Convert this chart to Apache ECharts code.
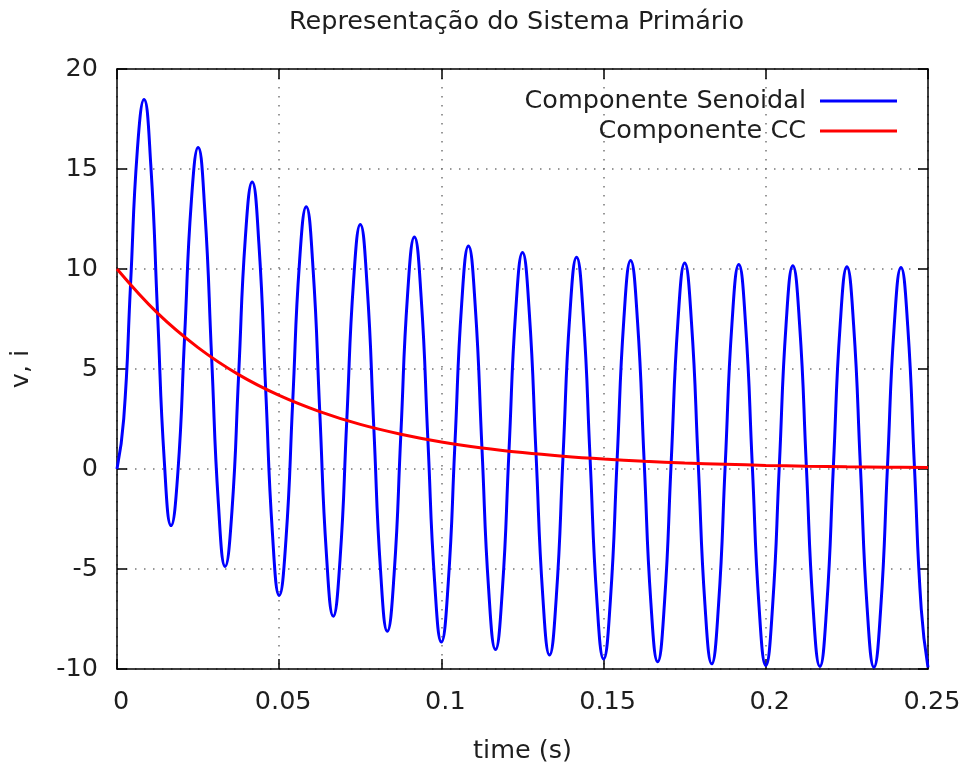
<!DOCTYPE html>
<html>
<head>
<meta charset="utf-8">
<script src="https://cdn.jsdelivr.net/npm/echarts@6/dist/echarts.min.js"></script>
<style>
html,body{margin:0;padding:0;background:#fff;}
#chart{width:964px;height:769px;}
</style>
</head>
<body>
<div id="chart"></div>
<script>
// Sample times (s) for the sinusoidal component
const times = [0, 0.00208, 0.00417, 0.00625, 0.00833, 0.01042, 0.0125, 0.01458, 0.01667, 0.01875, 0.02083, 0.02292, 0.025, 0.02708, 0.02917, 0.03125, 0.03333, 0.03542, 0.0375, 0.03958, 0.04167, 0.04375, 0.04583, 0.04792, 0.05, 0.05208, 0.05417, 0.05625, 0.05833, 0.06042, 0.0625, 0.06458, 0.06667, 0.06875, 0.07083, 0.07292, 0.075, 0.07708, 0.07917, 0.08125, 0.08333, 0.08542, 0.0875, 0.08958, 0.09167, 0.09375, 0.09583, 0.09792, 0.1, 0.10208, 0.10417, 0.10625, 0.10833, 0.11042, 0.1125, 0.11458, 0.11667, 0.11875, 0.12083, 0.12292, 0.125, 0.12708, 0.12917, 0.13125, 0.13333, 0.13542, 0.1375, 0.13958, 0.14167, 0.14375, 0.14583, 0.14792, 0.15, 0.15208, 0.15417, 0.15625, 0.15833, 0.16042, 0.1625, 0.16458, 0.16667, 0.16875, 0.17083, 0.17292, 0.175, 0.17708, 0.17917, 0.18125, 0.18333, 0.18542, 0.1875, 0.18958, 0.19167, 0.19375, 0.19583, 0.19792, 0.2, 0.20208, 0.20417, 0.20625, 0.20833, 0.21042, 0.2125, 0.21458, 0.21667, 0.21875, 0.22083, 0.22292, 0.225, 0.22708, 0.22917, 0.23125, 0.23333, 0.23542, 0.2375, 0.23958, 0.24167, 0.24375, 0.24583, 0.24792, 0.25];
// Componente Senoidal values
const senoidal = [
  0, 2.52, 9.20, 15.90, 18.47, 15.19, 7.79, 0.40,
  -2.83, -0.20, 6.59, 13.39, 16.07, 12.89, 5.58, -1.72,
  -4.87, -2.14, 4.72, 11.60, 14.35, 11.24, 4.00, -3.23,
  -6.32, -3.54, 3.39, 10.32, 13.11, 10.06, 2.87, -4.32,
  -7.36, -4.54, 2.43, 9.40, 12.23, 9.21, 2.05, -5.10,
  -8.11, -5.26, 1.74, 8.74, 11.60, 8.60, 1.47, -5.66,
  -8.65, -5.77, 1.25, 8.26, 11.15, 8.17, 1.05, -6.06,
  -9.03, -6.14, 0.89, 7.93, 10.82, 7.86, 0.76, -6.35,
  -9.30, -6.40, 0.64, 7.68, 10.59, 7.63, 0.54, -6.55,
  -9.50, -6.59, 0.46, 7.51, 10.42, 7.47, 0.39, -6.70,
  -9.64, -6.73, 0.33, 7.39, 10.30, 7.36, 0.28, -6.80,
  -9.74, -6.82, 0.24, 7.30, 10.22, 7.28, 0.20, -6.88,
  -9.82, -6.89, 0.17, 7.23, 10.16, 7.22, 0.14, -6.93,
  -9.87, -6.94, 0.12, 7.19, 10.11, 7.18, 0.10, -6.97,
  -9.91, -6.98, 0.09, 7.15, 10.08, 7.15, 0.07, -7.00,
  -9.93
];
// Componente CC
const ccTimes = [0, 0.0125, 0.025, 0.0375, 0.05, 0.0625, 0.075, 0.0875, 0.1, 0.1125, 0.125, 0.1375, 0.15, 0.1625, 0.175, 0.1875, 0.2, 0.2125, 0.225, 0.2375, 0.25];
const ccValues = [10, 7.79, 6.07, 4.72, 3.68, 2.87, 2.23, 1.74, 1.35, 1.05, 0.82, 0.64, 0.50, 0.39, 0.30, 0.24, 0.18, 0.14, 0.11, 0.09, 0.07];

const seriesNames = ['Componente Senoidal', 'Componente CC'];
const titleText = 'Representação do Sistema Primário';
const xName = 'time (s)';
const yName = 'v, i';

const FONT = 'DejaVu Sans';
const TXT = '#1e1e1e';
const FS = 25.5;

const gridDash = {show: true, lineStyle: {color: '#777', width: 1.5, type: [1.5, 7.5]}};
const axLine = {show: true, onZero: false, lineStyle: {color: '#000', width: 1.5}};
const axTick = {show: true, inside: true, length: 10, lineStyle: {color: '#000', width: 1.5}};

const chart = echarts.init(document.getElementById('chart'), null, {renderer: 'canvas'});
chart.setOption({
  backgroundColor: '#fff',
  animation: false,
  title: {
    text: titleText, left: 284, top: 4,
    textStyle: {fontFamily: FONT, fontSize: FS, fontWeight: 'normal', color: TXT}
  },
  legend: {
    orient: 'vertical', right: 62, top: 83, align: 'right',
    itemWidth: 77, itemHeight: 3, itemGap: 4, icon: 'rect',
    textStyle: {fontFamily: FONT, fontSize: FS, color: TXT, lineHeight: 25, padding: [0, 9, 0, 0]},
    data: seriesNames
  },
  grid: {left: 116, right: 36, top: 69, bottom: 97, containLabel: false},
  xAxis: [{
    type: 'value', min: 0, max: 0.25, interval: 0.05, position: 'bottom',
    axisLine: axLine, axisTick: axTick, splitLine: gridDash,
    axisLabel: {fontFamily: FONT, fontSize: FS, color: TXT, margin: 20, padding: [0, 0, 0, 8]},
    name: xName, nameLocation: 'middle', nameGap: 69,
    nameTextStyle: {fontFamily: FONT, fontSize: FS, color: TXT}
  }, {
    type: 'value', min: 0, max: 0.25, interval: 0.05, position: 'top',
    axisLine: axLine, axisTick: axTick, splitLine: {show: false}, axisLabel: {show: false}
  }],
  yAxis: [{
    type: 'value', min: -10, max: 20, interval: 5, position: 'left',
    axisLine: axLine, axisTick: axTick, splitLine: gridDash,
    axisLabel: {fontFamily: FONT, fontSize: FS, color: TXT, margin: 19},
    name: yName, nameLocation: 'middle', nameGap: 83, nameRotate: 90,
    nameTextStyle: {fontFamily: FONT, fontSize: FS, color: TXT}
  }, {
    type: 'value', min: -10, max: 20, interval: 5, position: 'right',
    axisLine: axLine, axisTick: axTick, splitLine: {show: false}, axisLabel: {show: false}
  }],
  series: [{
    name: seriesNames[0], type: 'line', xAxisIndex: 0, yAxisIndex: 0,
    data: times.map((t, i) => [t, senoidal[i]]),
    smooth: 0.5, symbol: 'none', clip: true,
    lineStyle: {color: '#0000ff', width: 3},
    itemStyle: {color: '#0000ff'}
  }, {
    name: seriesNames[1], type: 'line', xAxisIndex: 0, yAxisIndex: 0,
    data: ccTimes.map((t, i) => [t, ccValues[i]]),
    smooth: 0.4, symbol: 'none', clip: true,
    lineStyle: {color: '#ff0000', width: 3},
    itemStyle: {color: '#ff0000'}
  }]
});
</script>
</body>
</html>
